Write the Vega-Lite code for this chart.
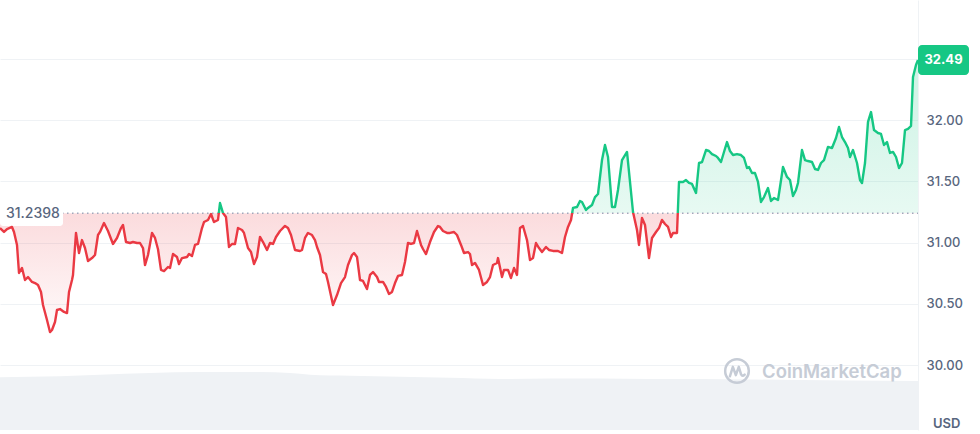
{
  "$schema": "https://vega.github.io/schema/vega-lite/v6.json",
  "width": 918,
  "height": 430,
  "autosize": {"type": "none"},
  "padding": {"left": 0, "top": 0, "right": 62, "bottom": 4},
  "background": "white",
  "config": {"view": {"stroke": null}, "font": "Inter"},
  "datasets": {
    "one": [{}],
    "price": [
      {"t":0,"p":31.118},{"t":4,"p":31.086},{"t":7,"p":31.110},{"t":12,"p":31.127},{"t":14,"p":31.086},{"t":17,"p":30.980},{"t":19,"p":30.751},{"t":22,"p":30.792},{"t":25,"p":30.694},{"t":28,"p":30.718},{"t":32,"p":30.678},{"t":35,"p":30.669},{"t":38,"p":30.653},{"t":41,"p":30.596},{"t":43,"p":30.490},{"t":47,"p":30.367},{"t":50,"p":30.269},{"t":52,"p":30.286},{"t":55,"p":30.351},{"t":57,"p":30.449},{"t":60,"p":30.457},{"t":64,"p":30.433},{"t":67,"p":30.424},{"t":69,"p":30.596},{"t":72,"p":30.694},{"t":73,"p":30.735},{"t":76,"p":31.078},{"t":79,"p":30.914},{"t":82,"p":31.020},{"t":85,"p":30.955},{"t":88,"p":30.849},{"t":92,"p":30.873},{"t":95,"p":30.898},{"t":98,"p":31.061},{"t":100,"p":31.086},{"t":104,"p":31.159},{"t":108,"p":31.094},{"t":113,"p":30.988},{"t":117,"p":31.037},{"t":121,"p":31.118},{"t":123,"p":31.143},{"t":126,"p":31.004},{"t":130,"p":30.996},{"t":133,"p":31.004},{"t":137,"p":30.996},{"t":140,"p":30.996},{"t":143,"p":30.955},{"t":145,"p":30.816},{"t":148,"p":30.898},{"t":152,"p":31.078},{"t":155,"p":31.037},{"t":158,"p":30.945},{"t":161,"p":30.776},{"t":164,"p":30.767},{"t":168,"p":30.800},{"t":170,"p":30.792},{"t":173,"p":30.906},{"t":177,"p":30.882},{"t":179,"p":30.824},{"t":182,"p":30.873},{"t":187,"p":30.882},{"t":189,"p":30.906},{"t":192,"p":30.890},{"t":195,"p":30.980},{"t":198,"p":30.988},{"t":202,"p":31.118},{"t":204,"p":31.167},{"t":208,"p":31.184},{"t":211,"p":31.233},{"t":214,"p":31.167},{"t":218,"p":31.184},{"t":220,"p":31.322},{"t":223,"p":31.241},{"t":226,"p":31.208},{"t":229,"p":30.963},{"t":232,"p":30.988},{"t":235,"p":30.988},{"t":238,"p":31.118},{"t":242,"p":31.102},{"t":244,"p":31.078},{"t":248,"p":30.955},{"t":251,"p":30.922},{"t":254,"p":30.824},{"t":257,"p":30.882},{"t":260,"p":31.045},{"t":263,"p":31.004},{"t":267,"p":30.939},{"t":270,"p":30.996},{"t":273,"p":30.988},{"t":276,"p":31.045},{"t":280,"p":31.094},{"t":285,"p":31.135},{"t":288,"p":31.118},{"t":291,"p":31.061},{"t":295,"p":30.939},{"t":300,"p":30.931},{"t":302,"p":30.939},{"t":305,"p":31.037},{"t":308,"p":31.078},{"t":312,"p":31.061},{"t":315,"p":31.020},{"t":317,"p":30.963},{"t":320,"p":30.898},{"t":323,"p":30.759},{"t":326,"p":30.743},{"t":328,"p":30.678},{"t":333,"p":30.490},{"t":337,"p":30.571},{"t":341,"p":30.669},{"t":345,"p":30.718},{"t":348,"p":30.816},{"t":352,"p":30.898},{"t":354,"p":30.914},{"t":357,"p":30.882},{"t":360,"p":30.694},{"t":363,"p":30.686},{"t":367,"p":30.620},{"t":370,"p":30.735},{"t":373,"p":30.759},{"t":377,"p":30.718},{"t":379,"p":30.678},{"t":383,"p":30.678},{"t":386,"p":30.637},{"t":389,"p":30.580},{"t":392,"p":30.596},{"t":395,"p":30.669},{"t":398,"p":30.727},{"t":402,"p":30.735},{"t":405,"p":30.841},{"t":408,"p":30.996},{"t":411,"p":30.988},{"t":414,"p":30.996},{"t":417,"p":31.094},{"t":421,"p":30.980},{"t":423,"p":30.947},{"t":426,"p":30.906},{"t":430,"p":31.004},{"t":434,"p":31.086},{"t":438,"p":31.135},{"t":440,"p":31.127},{"t":443,"p":31.094},{"t":447,"p":31.078},{"t":450,"p":31.078},{"t":454,"p":31.086},{"t":457,"p":31.061},{"t":461,"p":30.980},{"t":464,"p":30.914},{"t":468,"p":30.922},{"t":470,"p":30.906},{"t":472,"p":30.816},{"t":475,"p":30.833},{"t":479,"p":30.776},{"t":483,"p":30.653},{"t":487,"p":30.678},{"t":490,"p":30.718},{"t":493,"p":30.816},{"t":497,"p":30.833},{"t":498,"p":30.873},{"t":502,"p":30.718},{"t":504,"p":30.776},{"t":508,"p":30.776},{"t":511,"p":30.710},{"t":514,"p":30.792},{"t":517,"p":30.735},{"t":520,"p":31.118},{"t":523,"p":31.135},{"t":527,"p":31.020},{"t":530,"p":30.857},{"t":533,"p":30.873},{"t":536,"p":30.996},{"t":539,"p":30.955},{"t":542,"p":30.922},{"t":546,"p":30.963},{"t":549,"p":30.939},{"t":553,"p":30.931},{"t":558,"p":30.931},{"t":562,"p":30.914},{"t":565,"p":31.045},{"t":568,"p":31.127},{"t":571,"p":31.184},{"t":573,"p":31.282},{"t":577,"p":31.290},{"t":580,"p":31.339},{"t":582,"p":31.331},{"t":586,"p":31.265},{"t":588,"p":31.282},{"t":592,"p":31.306},{"t":595,"p":31.371},{"t":598,"p":31.396},{"t":602,"p":31.673},{"t":605,"p":31.796},{"t":608,"p":31.698},{"t":612,"p":31.290},{"t":615,"p":31.290},{"t":618,"p":31.429},{"t":622,"p":31.673},{"t":627,"p":31.739},{"t":630,"p":31.494},{"t":633,"p":31.249},{"t":637,"p":31.102},{"t":639,"p":30.980},{"t":642,"p":31.200},{"t":645,"p":31.143},{"t":649,"p":30.873},{"t":652,"p":31.037},{"t":656,"p":31.086},{"t":659,"p":31.118},{"t":662,"p":31.184},{"t":665,"p":31.151},{"t":668,"p":31.127},{"t":671,"p":31.045},{"t":673,"p":31.078},{"t":677,"p":31.078},{"t":679,"p":31.494},{"t":683,"p":31.494},{"t":686,"p":31.510},{"t":689,"p":31.486},{"t":692,"p":31.478},{"t":696,"p":31.404},{"t":699,"p":31.649},{"t":702,"p":31.657},{"t":706,"p":31.755},{"t":709,"p":31.747},{"t":712,"p":31.722},{"t":716,"p":31.706},{"t":718,"p":31.690},{"t":721,"p":31.657},{"t":724,"p":31.739},{"t":727,"p":31.820},{"t":730,"p":31.747},{"t":733,"p":31.714},{"t":737,"p":31.722},{"t":741,"p":31.714},{"t":744,"p":31.690},{"t":747,"p":31.608},{"t":749,"p":31.616},{"t":752,"p":31.567},{"t":755,"p":31.567},{"t":758,"p":31.494},{"t":761,"p":31.331},{"t":764,"p":31.371},{"t":768,"p":31.445},{"t":771,"p":31.339},{"t":774,"p":31.363},{"t":778,"p":31.347},{"t":780,"p":31.453},{"t":783,"p":31.616},{"t":787,"p":31.535},{"t":790,"p":31.510},{"t":793,"p":31.380},{"t":796,"p":31.429},{"t":798,"p":31.486},{"t":802,"p":31.755},{"t":805,"p":31.673},{"t":808,"p":31.665},{"t":812,"p":31.657},{"t":815,"p":31.600},{"t":818,"p":31.592},{"t":821,"p":31.649},{"t":824,"p":31.673},{"t":828,"p":31.780},{"t":832,"p":31.771},{"t":836,"p":31.853},{"t":839,"p":31.943},{"t":842,"p":31.861},{"t":845,"p":31.820},{"t":848,"p":31.771},{"t":850,"p":31.698},{"t":853,"p":31.755},{"t":857,"p":31.649},{"t":860,"p":31.510},{"t":862,"p":31.486},{"t":865,"p":31.649},{"t":868,"p":31.984},{"t":871,"p":32.065},{"t":874,"p":31.918},{"t":878,"p":31.894},{"t":881,"p":31.886},{"t":884,"p":31.796},{"t":887,"p":31.820},{"t":890,"p":31.731},{"t":893,"p":31.739},{"t":896,"p":31.698},{"t":899,"p":31.608},{"t":902,"p":31.649},{"t":905,"p":31.918},{"t":908,"p":31.927},{"t":911,"p":31.951},{"t":913,"p":32.351},{"t":916,"p":32.449},{"t":918,"p":32.49}
    ],
    "vol": [
      {"t":0,"v":98},{"t":30,"v":99},{"t":60,"v":100},{"t":100,"v":103},{"t":150,"v":106},{"t":200,"v":108},{"t":260,"v":108},{"t":290,"v":106},{"t":310,"v":103},{"t":350,"v":101},{"t":400,"v":99},{"t":450,"v":97},{"t":500,"v":95},{"t":550,"v":96},{"t":600,"v":96},{"t":650,"v":95},{"t":700,"v":95},{"t":750,"v":94},{"t":800,"v":93},{"t":850,"v":92},{"t":918,"v":91}
    ]
  },
  "resolve": {"scale": {"y": "independent"}, "axis": {"y": "independent"}},
  "layer": [
    {
      "data": {"name": "vol"},
      "mark": {"type": "area", "color": "#eff2f5", "interpolate": "monotone"},
      "encoding": {
        "x": {"field": "t", "type": "quantitative", "scale": {"domain": [0, 918], "nice": false, "zero": false}, "axis": null},
        "y": {"field": "v", "type": "quantitative", "scale": {"domain": [0, 800], "nice": false}, "axis": null}
      }
    },
    {
      "data": {"name": "price"},
      "mark": {"type": "area", "color": {"gradient": "linear", "x1": 0, "y1": 0, "x2": 0, "y2": 1, "stops": [
        {"offset": 0, "color": "rgba(22,199,132,0.22)"},
        {"offset": 0.5629, "color": "rgba(22,199,132,0.10)"},
        {"offset": 0.5629, "color": "rgba(234,57,67,0.18)"},
        {"offset": 1, "color": "rgba(234,57,67,0.02)"}
      ]}},
      "encoding": {
        "x": {"field": "t", "type": "quantitative", "scale": {"domain": [0, 918], "nice": false, "zero": false},
          "axis": {"orient": "top", "labels": false, "ticks": false, "grid": false, "domain": true, "domainColor": "#eff2f5", "title": null}},
        "y": {"field": "p", "type": "quantitative", "scale": {"domain": [29.4694, 32.9796], "nice": false, "zero": false},
          "axis": {"orient": "right", "values": [30, 30.5, 31, 31.5, 32, 32.5], "labelExpr": "datum.value > 32.2 ? '' : format(datum.value, '.2f')",
            "grid": true, "gridColor": "#eff2f5", "domain": true, "domainColor": "#eff2f5", "ticks": false, "labelPadding": 8,
            "labelFontSize": 13, "labelColor": "#58667e", "labelFont": "Inter", "labelFontWeight": 500, "title": null}},
        "y2": {"datum": 31.2398}
      }
    },
    {
      "data": {"name": "one"},
      "mark": {"type": "rule", "color": "#a1a7bb", "strokeDash": [1.5, 3.5], "strokeWidth": 1.5},
      "encoding": {
        "x": {"datum": 62, "type": "quantitative", "scale": {"domain": [0, 918], "nice": false, "zero": false}, "axis": null},
        "x2": {"datum": 918},
        "y": {"datum": 31.2398, "type": "quantitative", "scale": {"domain": [29.4694, 32.9796], "nice": false, "zero": false}, "axis": null}
      }
    },
    {
      "data": {"name": "one"},
      "mark": {"type": "rect", "color": "white", "cornerRadius": 3},
      "encoding": {
        "x": {"datum": 0, "type": "quantitative", "scale": {"domain": [0, 918], "nice": false, "zero": false}, "axis": null},
        "x2": {"datum": 63},
        "y": {"datum": 31.339, "type": "quantitative", "scale": {"domain": [29.4694, 32.9796], "nice": false, "zero": false}, "axis": null},
        "y2": {"datum": 31.135}
      }
    },
    {
      "data": {"name": "price"},
      "mark": {"type": "line", "strokeWidth": 2.4, "strokeJoin": "round", "stroke": {"gradient": "linear", "x1": 0, "y1": 0, "x2": 0, "y2": 1, "stops": [
        {"offset": 0, "color": "#16c784"},
        {"offset": 0.5629, "color": "#16c784"},
        {"offset": 0.5629, "color": "#ea3943"},
        {"offset": 1, "color": "#ea3943"}
      ]}},
      "encoding": {
        "x": {"field": "t", "type": "quantitative", "scale": {"domain": [0, 918], "nice": false, "zero": false}, "axis": null},
        "y": {"field": "p", "type": "quantitative", "scale": {"domain": [29.4694, 32.9796], "nice": false, "zero": false}, "axis": null}
      }
    },
    {
      "data": {"name": "one"},
      "mark": {"type": "text", "text": "31.2398", "align": "left", "baseline": "middle", "dx": 6, "dy": 1, "fontSize": 14, "fontWeight": 500, "color": "#58667e"},
      "encoding": {
        "x": {"datum": 0, "type": "quantitative", "scale": {"domain": [0, 918], "nice": false, "zero": false}, "axis": null},
        "y": {"datum": 31.2398, "type": "quantitative", "scale": {"domain": [29.4694, 32.9796], "nice": false, "zero": false}, "axis": null}
      }
    },
    {
      "data": {"name": "one"},
      "mark": {"type": "rect", "color": "#16c784", "cornerRadius": 4},
      "encoding": {
        "x": {"datum": 918, "type": "quantitative", "scale": {"domain": [0, 918], "nice": false, "zero": false}, "axis": null},
        "x2": {"datum": 969},
        "y": {"datum": 32.612, "type": "quantitative", "scale": {"domain": [29.4694, 32.9796], "nice": false, "zero": false}, "axis": null},
        "y2": {"datum": 32.367}
      }
    },
    {
      "data": {"name": "one"},
      "mark": {"type": "text", "text": "32.49", "align": "center", "baseline": "middle", "fontSize": 13, "fontWeight": 700, "color": "white"},
      "encoding": {
        "x": {"datum": 943.5, "type": "quantitative", "scale": {"domain": [0, 918], "nice": false, "zero": false}, "axis": null},
        "y": {"datum": 32.49, "type": "quantitative", "scale": {"domain": [29.4694, 32.9796], "nice": false, "zero": false}, "axis": null}
      }
    },
    {
      "data": {"name": "one"},
      "mark": {"type": "text", "text": "USD", "align": "left", "baseline": "middle", "fontSize": 13, "fontWeight": 600, "color": "#58667e"},
      "encoding": {
        "x": {"datum": 933, "type": "quantitative", "scale": {"domain": [0, 918], "nice": false, "zero": false}, "axis": null},
        "y": {"datum": 29.518, "type": "quantitative", "scale": {"domain": [29.4694, 32.9796], "nice": false, "zero": false}, "axis": null}
      }
    },
    {
      "data": {"name": "one"},
      "mark": {"type": "point", "shape": "circle", "size": 560, "filled": false, "stroke": "#c6ccd6", "strokeWidth": 2.5, "opacity": 1},
      "encoding": {
        "x": {"datum": 737, "type": "quantitative", "scale": {"domain": [0, 918], "nice": false, "zero": false}, "axis": null},
        "y": {"datum": 29.951, "type": "quantitative", "scale": {"domain": [29.4694, 32.9796], "nice": false, "zero": false}, "axis": null}
      }
    },
    {
      "data": {"name": "one"},
      "mark": {"type": "point", "shape": "M -0.6 0.45 L -0.35 -0.35 L -0.1 0.35 L 0.15 -0.35 L 0.35 0.3 Q 0.45 0.5 0.65 0.3", "size": 560, "filled": false, "stroke": "#c6ccd6", "strokeWidth": 2.5, "strokeJoin": "round", "strokeCap": "round", "opacity": 1},
      "encoding": {
        "x": {"datum": 737, "type": "quantitative", "scale": {"domain": [0, 918], "nice": false, "zero": false}, "axis": null},
        "y": {"datum": 29.951, "type": "quantitative", "scale": {"domain": [29.4694, 32.9796], "nice": false, "zero": false}, "axis": null}
      }
    },
    {
      "data": {"name": "one"},
      "mark": {"type": "text", "text": "CoinMarketCap", "align": "left", "baseline": "middle", "fontSize": 18.5, "fontWeight": 600, "color": "#c6ccd6"},
      "encoding": {
        "x": {"datum": 762, "type": "quantitative", "scale": {"domain": [0, 918], "nice": false, "zero": false}, "axis": null},
        "y": {"datum": 29.943, "type": "quantitative", "scale": {"domain": [29.4694, 32.9796], "nice": false, "zero": false}, "axis": null}
      }
    }
  ]
}
